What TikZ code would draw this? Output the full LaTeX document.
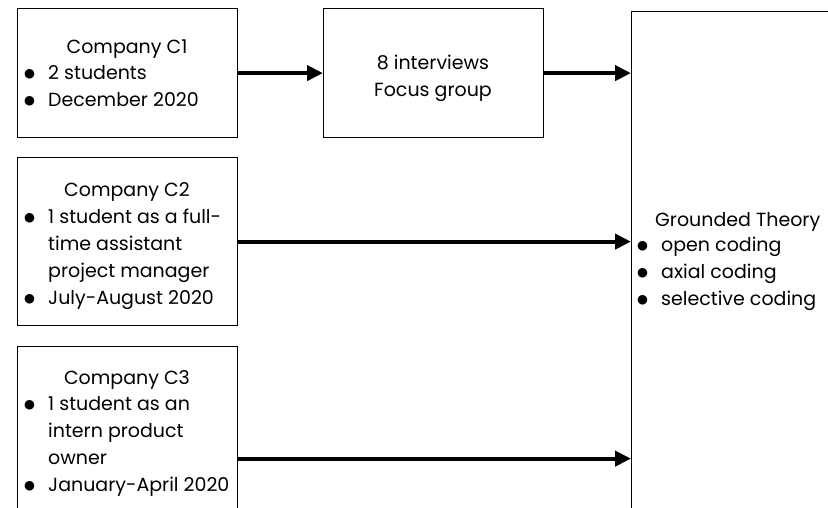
\documentclass[tikz,border=0pt]{standalone}
\usepackage{fontspec}
\setmainfont{Poppins}
\newfontfamily\symfont{DejaVu Sans}
\usetikzlibrary{arrows.meta}
% bullet followed by the item text; \ind indents a continuation line
\newcommand\bul{\makebox[24pt][l]{\raisebox{2pt}{\symfont\fontsize{12.5}{12.5}\selectfont ●}}}
\newcommand\ind{\hspace*{24pt}}
\begin{document}
\begin{tikzpicture}[x=1pt,y=-1pt,
  box/.style={draw,line width=1.2pt,rectangle,inner sep=0pt,anchor=north west},
  link/.style={line width=4pt,-{Triangle[length=16pt,width=15pt]}},
  txt/.style={inner sep=0pt,font=\fontsize{19}{26.7}\selectfont,align=left,anchor=base west},
  head/.style={inner sep=0pt,font=\fontsize{19}{26.7}\selectfont,align=center,anchor=base}]
\useasboundingbox (0,0) rectangle (828,507);
\clip (0,0) rectangle (828,507);

% boxes
\node[box,minimum width=220pt,minimum height=129pt] (c1) at (17,8) {};
\node[box,minimum width=220pt,minimum height=129pt] (iv) at (323,8) {};
\node[box,minimum width=220pt,minimum height=168pt] (c2) at (17,157) {};
\node[box,minimum width=220pt,minimum height=224pt] (c3) at (17,346) {};
\node[box,minimum width=230pt,minimum height=530pt] (gt) at (631,11) {};

% texts (multi-line nodes are placed by the baseline of their last line)
\node[head] (c1h) at (127,53) {Company C1};
\node[txt] (c1l) at (24,106) {\bul 2 students\\\bul December 2020};
\node[head] (ivt) at (433,96) {8 interviews\\Focus group};
\node[head] (c2h) at (127,196) {Company C2};
\node[txt] (c2l) at (24,304) {\bul 1 student as a full-\\\ind time assistant\\\ind project manager\\\bul July-August 2020};
\node[head] (c3h) at (127,384) {Company C3};
\node[txt] (c3l) at (24,491) {\bul 1 student as an\\\ind intern product\\\ind owner\\\bul January-April 2020};
\node[txt] (gth) at (655,226) {Grounded Theory};
\node[txt] (gtl) at (637,305) {\bul open coding\\\bul axial coding\\\bul selective coding};

% connectors
\draw[link] (c1.east) -- (iv.west);
\draw[link] (iv.east) -- (iv.east -| gt.west);
\draw[link] (c2.east) -- (c2.east -| gt.west);
\draw[link] (c3.east) -- (c3.east -| gt.west);
\end{tikzpicture}
\end{document}
